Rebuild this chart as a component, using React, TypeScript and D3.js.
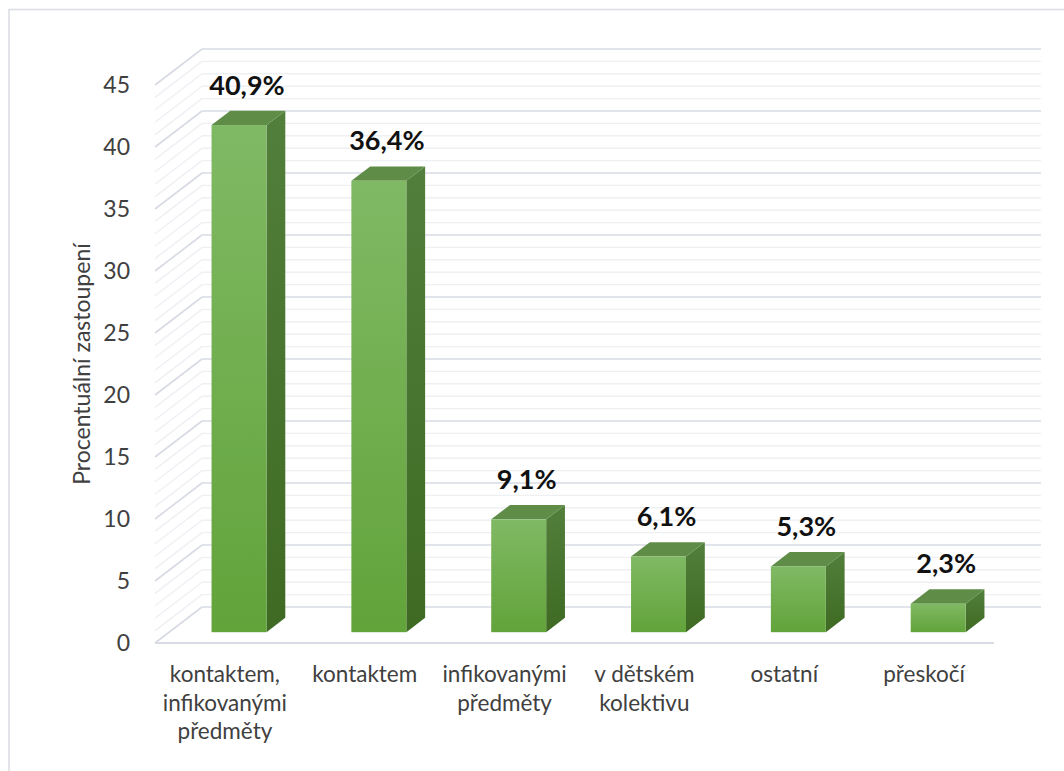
import React from "react";
import * as d3 from "d3";

const categories = [
  "kontaktem,\ninfikovanými\npředměty",
  "kontaktem",
  "infikovanými\npředměty",
  "v dětském\nkolektivu",
  "ostatní",
  "přeskočí",
];
const values = [40.9, 36.4, 9.1, 6.1, 5.3, 2.3];
const valueLabels = ["40,9%", "36,4%", "9,1%", "6,1%", "5,3%", "2,3%"];
const yTicks = [0, 5, 10, 15, 20, 25, 30, 35, 40, 45];
const yTitle = "Procentuální zastoupení";

const W = 1064;
const H = 771;
const FONT = "Lato, 'Open Sans', sans-serif";

export default function App() {
  const x0 = 155;
  const x1 = 994;
  const yFloor = 643;
  const DX = 47;
  const DY = 36;
  const x = d3.scaleBand<string>().domain(categories).range([x0, x1]).paddingInner(0).paddingOuter(0);
  const h = d3.scaleLinear().domain([0, 45]).range([0, 558]);
  const step = x.step();
  const barW = step * 0.393;
  const dFront = 0.3;
  const dBack = 0.7;

  const minorTicks = d3.range(0, 46, 1);

  const gridColorMajor = "#d8dbe4";
  const gridColorMinor = "#eef0f4";

  return (
    <svg width={W} height={H} style={{ position: "absolute", left: 0, top: 0, background: "#fff" }}>
      <defs>
        <linearGradient id="front" x1="0" y1="0" x2="0" y2="1">
          <stop offset="0%" stopColor="#80b964" />
          <stop offset="100%" stopColor="#62a33a" />
        </linearGradient>
        <linearGradient id="side" x1="0" y1="0" x2="0" y2="1">
          <stop offset="0%" stopColor="#527f3b" />
          <stop offset="100%" stopColor="#3e6a23" />
        </linearGradient>
      </defs>
      <rect x={0} y={0} width={W} height={H} fill="#fff" />
      <rect x={9} y={9.5} width={W + 20} height={H + 20} fill="none" stroke="#d9dce3" strokeWidth={1.5} />

      {minorTicks.map((v) => {
        const major = v % 5 === 0;
        const yf = yFloor - h(v);
        const yb = yf - DY;
        const col = major ? gridColorMajor : gridColorMinor;
        const sw = major ? 1.6 : 1.4;
        return (
          <g key={v}>
            <line x1={x0 + DX} x2={x1 + DX} y1={yb} y2={yb} stroke={col} strokeWidth={sw} />
            <line x1={x0} y1={yf} x2={x0 + DX} y2={yb} stroke={col} strokeWidth={sw} />
          </g>
        );
      })}
      <line x1={x0} x2={x1} y1={yFloor} y2={yFloor} stroke={gridColorMajor} strokeWidth={1.8} />

      {categories.map((c, i) => {
        const v = values[i];
        const cx = (x(c) as number) + step / 2;
        const fx = cx - barW / 2 + dFront * DX;
        const fb = yFloor - dFront * DY;
        const ft = fb - h(v);
        const ddx = (dBack - dFront) * DX;
        const ddy = (dBack - dFront) * DY;
        const top = `M${fx},${ft} L${fx + ddx},${ft - ddy} L${fx + barW + ddx},${ft - ddy} L${fx + barW},${ft} Z`;
        const side = `M${fx + barW},${ft} L${fx + barW + ddx},${ft - ddy} L${fx + barW + ddx},${fb - ddy} L${fx + barW},${fb} Z`;
        return (
          <g key={c}>
            <path d={side} fill="url(#side)" />
            <path d={top} fill="#5f8d47" />
            <rect x={fx} y={ft} width={barW} height={h(v)} fill="url(#front)" />
            <text
              x={fx + barW / 2 + 8}
              y={ft - ddy - 16}
              textAnchor="middle"
              fontFamily={FONT}
              fontWeight={700}
              fontSize={27}
              fill="#111"
            >
              {valueLabels[i]}
            </text>
          </g>
        );
      })}

      {yTicks.map((t) => (
        <text
          key={t}
          x={130}
          y={yFloor - h(t)}
          dy="0.36em"
          textAnchor="end"
          fontFamily={FONT}
          fontSize={23}
          fill="#404040"
        >
          {t}
        </text>
      ))}

      {categories.map((c) => {
        const cx = (x(c) as number) + step / 2;
        return (
          <text key={c} textAnchor="middle" fontFamily={FONT} fontSize={22.5} fill="#404040">
            {c.split("\n").map((line, j) => (
              <tspan key={j} x={cx} y={682 + j * 28.5}>
                {line}
              </tspan>
            ))}
          </text>
        );
      })}

      <text
        transform={`translate(90, 364) rotate(-90)`}
        textAnchor="middle"
        fontFamily={FONT}
        fontSize={23}
        fill="#404040"
      >
        {yTitle}
      </text>
    </svg>
  );
}
